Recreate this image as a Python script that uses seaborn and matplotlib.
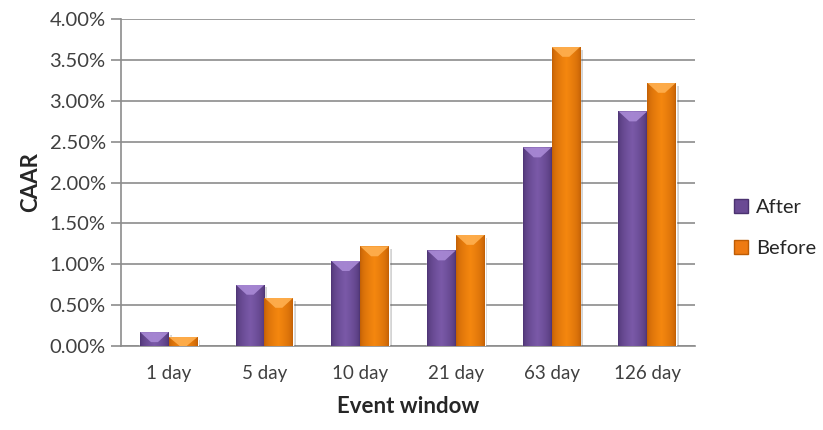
import numpy as np
import pandas as pd
import matplotlib
matplotlib.use("Agg")
import matplotlib.pyplot as plt
import matplotlib.patheffects as pe
from matplotlib.patches import Polygon, Patch
from matplotlib.colors import to_rgb
from matplotlib.ticker import FuncFormatter, MultipleLocator
import seaborn as sns

# Cumulative average abnormal returns (%) by event window
windows = ["1 day", "5 day", "10 day", "21 day", "63 day", "126 day"]
after = [0.17, 0.75, 1.04, 1.17, 2.43, 2.87]
before = [0.11, 0.59, 1.22, 1.36, 3.66, 3.22]
groups = ["After", "Before"]

df = pd.DataFrame({
    "window": windows * 2,
    "group": ["After"] * len(windows) + ["Before"] * len(windows),
    "caar": after + before,
})

palette = {"After": "#6A4A94", "Before": "#EE7A12"}
shades = {
    "After": ("#4B3270", "#7A59A8", "#A98AD6"),
    "Before": ("#BE5C04", "#F5870F", "#FFB050"),
}

sns.set_theme(style="white")
plt.rcParams["font.family"] = ["Lato", "DejaVu Sans"]

fig = plt.figure(figsize=(8.23, 4.30), dpi=100)
ax = fig.add_axes([0.147, 0.1953, 0.6975, 0.7605])

sns.barplot(data=df, x="window", y="caar", hue="group", hue_order=groups,
            order=windows, palette=palette, width=0.6, gap=0,
            saturation=1, legend=False, ax=ax, zorder=3)

ax.set_ylim(0, 4.0)
ax.yaxis.set_major_locator(MultipleLocator(0.5))
ax.yaxis.set_major_formatter(FuncFormatter(lambda v, p: f"{v:.2f}%"))
ax.grid(axis="y", color="#8C8C8C", linewidth=1.2, zorder=0)
ax.set_axisbelow(True)
for s in ["top", "right"]:
    ax.spines[s].set_visible(False)
for s in ["left", "bottom"]:
    ax.spines[s].set_color("#8C8C8C")
    ax.spines[s].set_linewidth(1.2)
ax.tick_params(axis="y", length=7, width=1.2, color="#8C8C8C", direction="out",
               labelsize=14.5, labelcolor="#404040", pad=4, left=True)
ax.tick_params(axis="x", length=0, labelsize=13.5, labelcolor="#404040", pad=14)
ax.set_xlabel("Event window", fontsize=16, fontweight="bold", color="#262626", labelpad=10)
ax.set_ylabel("CAAR", fontsize=16, fontweight="bold", color="#262626", labelpad=6)

fig.canvas.draw()
# pixel -> data height for the bevel depth
px_per_unit = ax.transData.transform((0, 1))[1] - ax.transData.transform((0, 0))[1]
bevel = 10 / px_per_unit

bars = [p for p in ax.patches]
n = len(windows)
for i, bar in enumerate(bars):
    g = groups[i // n]
    dark, mid, light = shades[g]
    x0, w, h = bar.get_x(), bar.get_width(), bar.get_height()
    bar.set_path_effects([pe.SimplePatchShadow(offset=(2, -2), alpha=0.25, shadow_rgbFace="#555555"),
                          pe.Normal()])
    # horizontal shading across the bar
    t = np.linspace(0, 1, 64)
    prof = np.clip(1 - np.abs(t - 0.5) * 2, 0, 1) ** 0.5
    c0, c1 = np.array(to_rgb(dark)), np.array(to_rgb(mid))
    img = (c0[None, :] * (1 - prof[:, None]) + c1[None, :] * prof[:, None])[None, :, :]
    im = ax.imshow(img, extent=[x0, x0 + w, 0, h], aspect="auto", zorder=4,
                   interpolation="bicubic")
    im.set_clip_path(bar)
    d = min(bevel, h)
    tri = Polygon([[x0, h], [x0 + w, h], [x0 + w * 0.62, h - d], [x0 + w * 0.38, h - d]],
                  closed=True, facecolor=light, edgecolor="none", alpha=0.9, zorder=5)
    ax.add_patch(tri)
    tri.set_clip_path(bar)

ax.set_xlim(-0.5, n - 0.5)
ax.set_ylim(0, 4.0)

handles = [Patch(facecolor=palette[g], edgecolor=shades[g][0], label=g) for g in groups]
leg = fig.legend(handles=handles, loc="center left", bbox_to_anchor=(0.892, 0.47),
                 frameon=False, fontsize=14.5, handlelength=0.7, handleheight=0.7,
                 handletextpad=0.4, labelspacing=1.2, borderpad=0, borderaxespad=0)
for t in leg.get_texts():
    t.set_color("#262626")

fig.savefig("out.png", dpi=100)
